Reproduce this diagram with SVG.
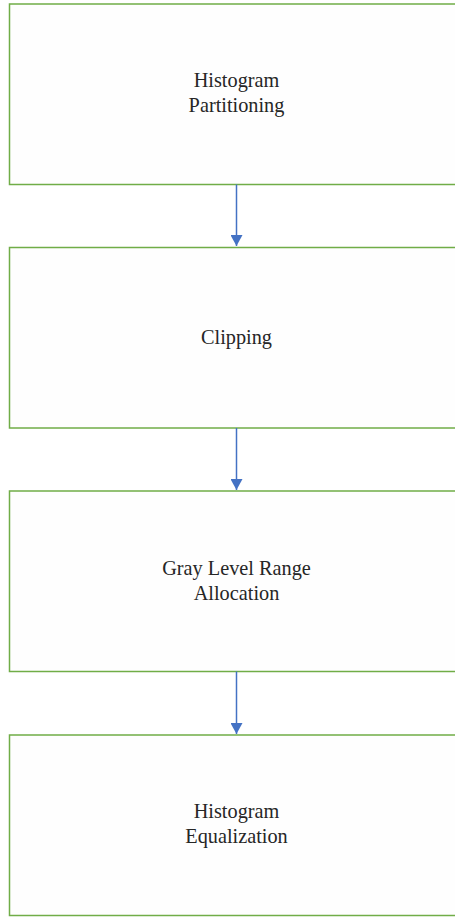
<svg xmlns="http://www.w3.org/2000/svg" width="455" height="917" viewBox="0 0 455 917">
<style>
.box{fill:#fefefe;stroke:#70ad47;stroke-width:1.5}
.t{font-family:"Liberation Serif",serif;font-size:20.3px;fill:#262626;text-anchor:middle}
.c{stroke:#4472c4;stroke-width:1.5;fill:none}
</style>
<defs>
<marker id="ah" markerWidth="11" markerHeight="12" refX="11" refY="6" orient="auto" markerUnits="userSpaceOnUse">
<path d="M0,0 L11,6 L0,12 z" fill="#4472c4"/>
</marker>
</defs>
<rect width="455" height="917" fill="#ffffff"/>
<g id="n1"><rect class="box" x="9.5" y="4" width="460" height="180.5"/><text class="t" x="236.5" y="87">Histogram</text><text class="t" x="236.5" y="112">Partitioning</text></g>
<g id="n2"><rect class="box" x="9.5" y="247.5" width="460" height="180.5"/><text class="t" x="236.5" y="344">Clipping</text></g>
<g id="n3"><rect class="box" x="9.5" y="491" width="460" height="180.5"/><text class="t" x="236.5" y="575">Gray Level Range</text><text class="t" x="236.5" y="600">Allocation</text></g>
<g id="n4"><rect class="box" x="9.5" y="735" width="460" height="180.5"/><text class="t" x="236.5" y="818">Histogram</text><text class="t" x="236.5" y="843">Equalization</text></g>
<g id="connectors">
<line class="c" x1="236.5" y1="184.5" x2="236.5" y2="246" marker-end="url(#ah)"/>
<line class="c" x1="236.5" y1="428" x2="236.5" y2="490" marker-end="url(#ah)"/>
<line class="c" x1="236.5" y1="671.5" x2="236.5" y2="734" marker-end="url(#ah)"/>
</g>
</svg>
